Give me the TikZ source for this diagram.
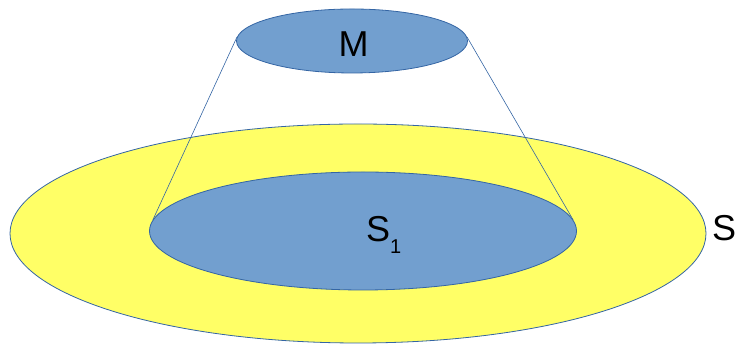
\documentclass[tikz,border=0pt]{standalone}
\usepackage{fontspec}
\setmainfont{Liberation Sans}
\usetikzlibrary{shapes.geometric, positioning}
\definecolor{skyblue}{HTML}{729FCF}
\definecolor{edgeblue}{HTML}{3465A4}
\definecolor{lemon}{HTML}{FFFF66}

\begin{document}
\begin{tikzpicture}[x=1pt, y=1pt,
  disc/.style={ellipse, draw=edgeblue, line width=0.8pt, inner sep=0pt},
  rim/.style={draw=edgeblue, line width=0.6pt},
  lbl/.style={font=\fontsize{36}{40}\selectfont, inner sep=0pt}]
\useasboundingbox (0,0) rectangle (736,344);

% outer surface and the inner patch
\node[disc, fill=lemon, minimum width=696, minimum height=219] (S) at (358,110.5) {};
\node[disc, fill=skyblue, minimum width=427, minimum height=118] (S1) at (363,113) {};

% top disc and the sides of the cone
\node[disc, fill=skyblue, minimum width=231, minimum height=64] (M) at (352,303) {};
\draw[rim] (M.178) -- (S1.177);
\draw[rim] (M.2) -- (S1.3);

% labels
\node[lbl] (Mlbl) at (353.5,299.5) {M};
\node[lbl, anchor=base west] (S1lbl) at (366,102) {S\raisebox{-12pt}{\fontsize{20}{24}\selectfont 1}};
\node[lbl, anchor=base west] (Slbl) at (712,103) {S};
\end{tikzpicture}
\end{document}
